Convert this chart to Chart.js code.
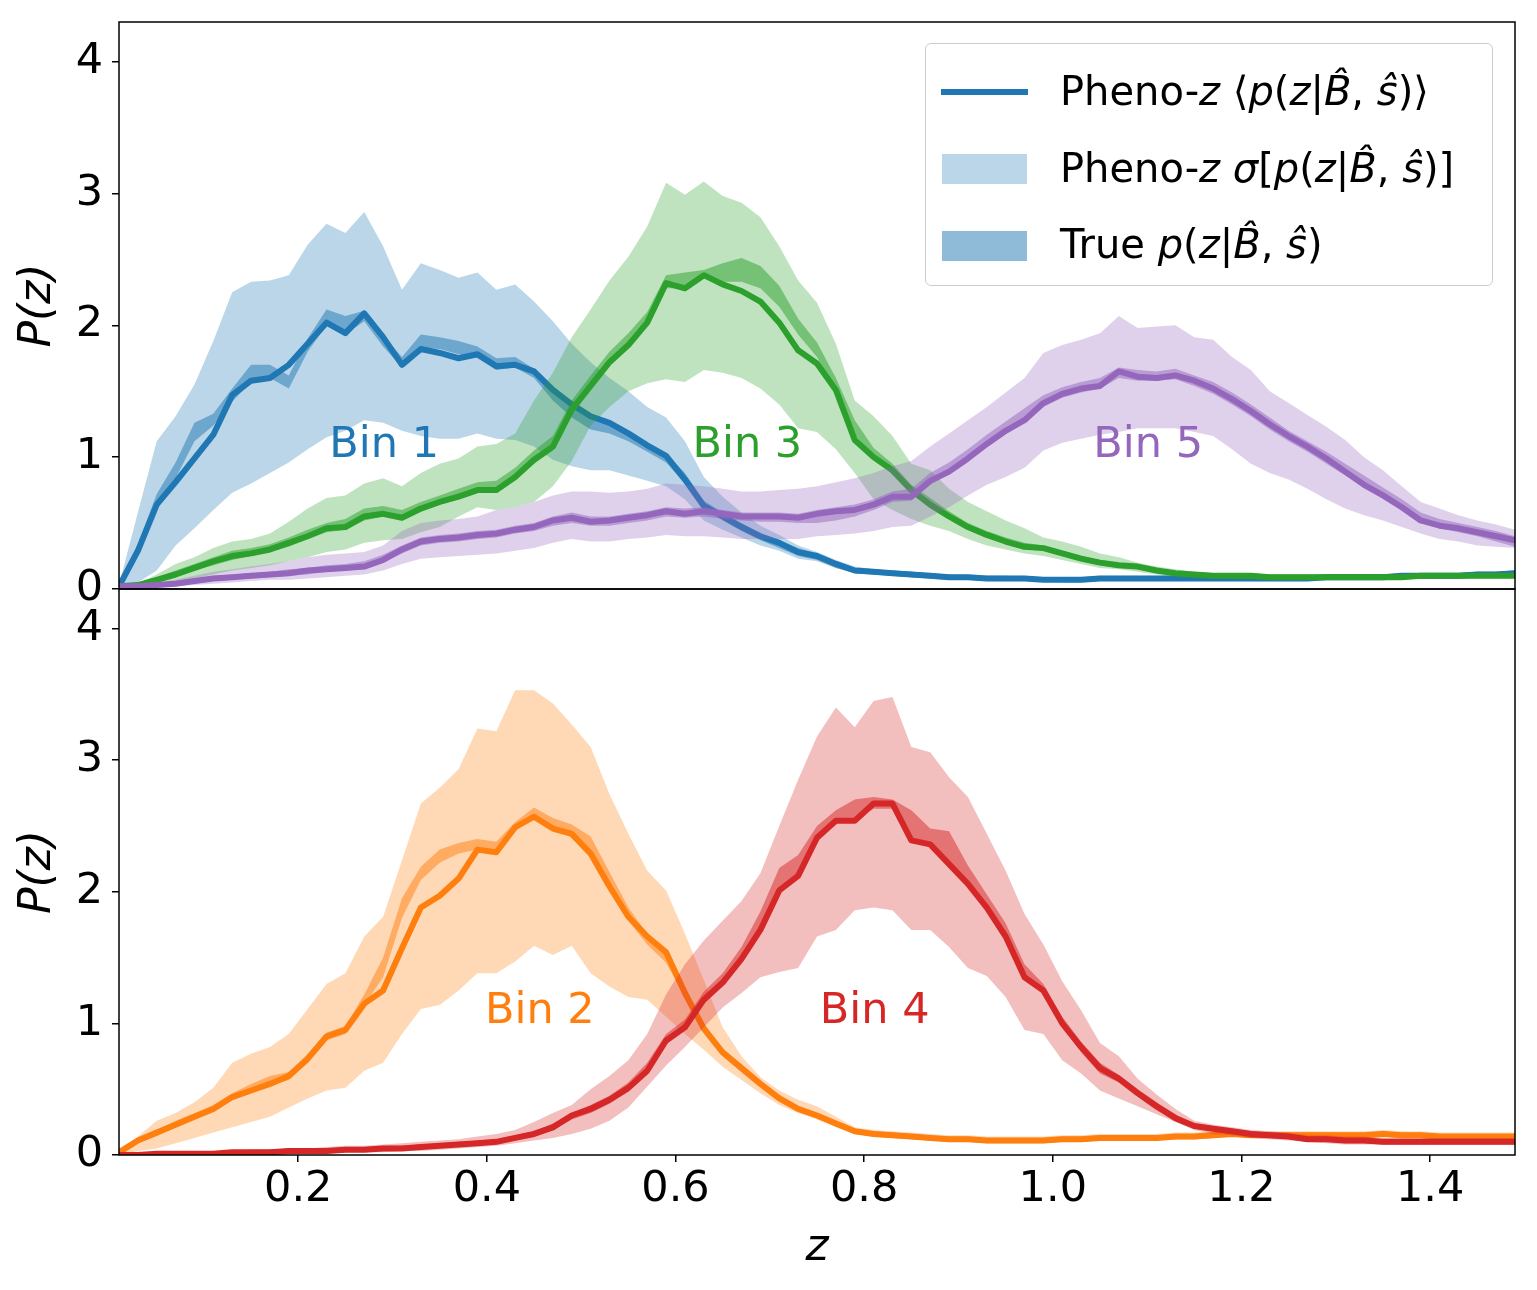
<!DOCTYPE html>
<html>
<head>
<meta charset="utf-8">
<script src="https://cdn.jsdelivr.net/npm/chart.js@4/dist/chart.umd.min.js"></script>
<style>
  html, body { margin: 0; padding: 0; background: #fff; }
  #wrap { position: relative; width: 1537px; height: 1290px; font-family: "DejaVu Sans", sans-serif; }
  #wrap canvas { position: absolute; left: 0; top: 0; }
  #legend { position: absolute; left: 925px; top: 43px; width: 566px; height: 241px;
            border: 1px solid #cccccc; border-radius: 6px; background: rgba(255,255,255,0.8); }
  .key { position: absolute; }
  .txt { position: absolute; left: 134px; font-size: 40px; line-height: 40px; white-space: nowrap; color: #000; }
</style>
</head>
<body>
<div id="wrap">
  <canvas id="topCanvas" width="1537" height="1290"></canvas>
  <canvas id="botCanvas" width="1537" height="1290"></canvas>
  <div id="legend">
    <div class="key" style="left:15px; top:45px; width:87px; height:6px; background:#1f77b4;"></div>
    <div class="txt" style="top:27px;">Pheno-<i>z</i> ⟨<i>p</i>(<i>z</i>|<i>B&#770;</i>, <i>ŝ</i>)⟩</div>
    <div class="key" style="left:16px; top:110px; width:85px; height:30px; background:rgba(31,119,180,0.3);"></div>
    <div class="txt" style="top:104px;">Pheno-<i>z</i> <i>σ</i>[<i>p</i>(<i>z</i>|<i>B&#770;</i>, <i>ŝ</i>)]</div>
    <div class="key" style="left:16px; top:187px; width:85px; height:30px; background:rgba(31,119,180,0.5);"></div>
    <div class="txt" style="top:180px;">True <i>p</i>(<i>z</i>|<i>B&#770;</i>, <i>ŝ</i>)</div>
  </div>
</div>
<script>
// redshift grid
const z = [0.01,0.03,0.05,0.07,0.09,0.11,0.13,0.15,0.17,0.19,
  0.21,0.23,0.25,0.27,0.29,0.31,0.33,0.35,0.37,0.39,
  0.41,0.43,0.45,0.47,0.49,0.51,0.53,0.55,0.57,0.59,
  0.61,0.63,0.65,0.67,0.69,0.71,0.73,0.75,0.77,0.79,
  0.81,0.83,0.85,0.87,0.89,0.91,0.93,0.95,0.97,0.99,
  1.01,1.03,1.05,1.07,1.09,1.11,1.13,1.15,1.17,1.19,
  1.21,1.23,1.25,1.27,1.29,1.31,1.33,1.35,1.37,1.39,
  1.41,1.43,1.45,1.47,1.49];

const xTicks = [0.2, 0.4, 0.6, 0.8, 1.0, 1.2, 1.4];
const yTicks = [0, 1, 2, 3, 4];

// Bin 1
const mean1 = [0.02,0.29,0.64,0.81,0.99,1.17,1.47,1.58,1.60,1.70,
  1.86,2.02,1.94,2.09,1.91,1.70,1.82,1.79,1.75,1.78,
  1.69,1.70,1.65,1.51,1.40,1.31,1.26,1.18,1.09,1.01,
  0.83,0.63,0.55,0.47,0.40,0.35,0.28,0.25,0.19,0.14,
  0.13,0.12,0.11,0.10,0.09,0.09,0.08,0.08,0.08,0.07,
  0.07,0.07,0.08,0.08,0.08,0.08,0.08,0.08,0.08,0.08,
  0.08,0.08,0.08,0.08,0.09,0.09,0.09,0.09,0.10,0.10,
  0.10,0.10,0.11,0.11,0.12];
const trueLo1 = [0.00,0.28,0.62,0.84,1.12,1.24,1.42,1.57,1.60,1.52,
  1.80,2.00,1.93,2.03,1.84,1.68,1.83,1.82,1.78,1.75,
  1.66,1.68,1.60,1.43,1.30,1.21,1.18,1.12,1.04,0.96,
  0.80,0.62,0.52,0.44,0.37,0.31,0.25,0.22,0.16,0.12,
  0.11,0.10,0.09,0.08,0.07,0.07,0.06,0.06,0.06,0.06,
  0.06,0.06,0.06,0.06,0.06,0.06,0.07,0.07,0.07,0.07,
  0.07,0.07,0.07,0.07,0.07,0.07,0.08,0.08,0.08,0.09,
  0.09,0.09,0.10,0.10,0.10];
const trueHi1 = [0.03,0.34,0.72,0.96,1.26,1.33,1.52,1.70,1.70,1.62,
  1.90,2.12,2.07,2.11,1.92,1.76,1.93,1.91,1.88,1.84,
  1.75,1.76,1.67,1.52,1.40,1.31,1.27,1.20,1.10,1.03,
  0.88,0.67,0.58,0.50,0.42,0.37,0.31,0.27,0.21,0.16,
  0.15,0.14,0.13,0.12,0.11,0.10,0.10,0.10,0.09,0.09,
  0.09,0.09,0.09,0.09,0.09,0.09,0.10,0.10,0.10,0.10,
  0.10,0.10,0.10,0.10,0.11,0.11,0.11,0.11,0.12,0.12,
  0.12,0.12,0.13,0.13,0.14];
const sigLo1 = [0.00,0.05,0.14,0.33,0.46,0.60,0.73,0.80,0.88,0.96,
  1.06,1.15,1.20,1.28,1.26,1.20,1.16,1.14,1.14,1.18,
  1.14,1.13,1.08,0.98,0.93,0.90,0.90,0.86,0.82,0.78,
  0.68,0.52,0.45,0.39,0.33,0.29,0.23,0.21,0.16,0.12,
  0.11,0.10,0.09,0.08,0.07,0.07,0.06,0.06,0.06,0.06,
  0.05,0.05,0.06,0.06,0.06,0.06,0.06,0.06,0.06,0.06,
  0.06,0.06,0.06,0.06,0.07,0.07,0.07,0.07,0.08,0.08,
  0.08,0.08,0.09,0.09,0.10];
const sigHi1 = [0.03,0.58,1.12,1.31,1.55,1.88,2.25,2.33,2.34,2.38,
  2.61,2.77,2.70,2.86,2.60,2.27,2.47,2.42,2.36,2.40,
  2.27,2.31,2.18,2.03,1.86,1.72,1.60,1.50,1.38,1.30,
  1.12,0.85,0.70,0.58,0.48,0.41,0.33,0.28,0.22,0.17,
  0.15,0.14,0.13,0.12,0.11,0.11,0.10,0.10,0.10,0.09,
  0.09,0.09,0.10,0.10,0.10,0.10,0.10,0.10,0.10,0.10,
  0.10,0.10,0.10,0.10,0.11,0.11,0.11,0.11,0.12,0.12,
  0.12,0.12,0.13,0.13,0.14];

// Bin 2
const mean2 = [0.02,0.11,0.17,0.23,0.29,0.35,0.44,0.49,0.54,0.60,
  0.73,0.90,0.95,1.15,1.25,1.57,1.88,1.97,2.10,2.32,
  2.30,2.49,2.57,2.48,2.44,2.29,2.04,1.81,1.66,1.54,
  1.23,0.96,0.78,0.66,0.54,0.43,0.35,0.30,0.24,0.18,
  0.16,0.15,0.14,0.13,0.12,0.12,0.11,0.11,0.11,0.11,
  0.12,0.12,0.13,0.13,0.13,0.13,0.14,0.14,0.15,0.16,
  0.15,0.15,0.15,0.15,0.15,0.15,0.15,0.16,0.15,0.15,
  0.14,0.14,0.14,0.14,0.14];
const trueLo2 = [0.00,0.09,0.15,0.21,0.27,0.33,0.42,0.48,0.53,0.57,
  0.71,0.87,0.92,1.14,1.35,1.80,2.09,2.22,2.29,2.32,
  2.31,2.46,2.57,2.49,2.41,2.29,2.04,1.78,1.60,1.46,
  1.20,0.94,0.76,0.63,0.52,0.41,0.33,0.28,0.22,0.16,
  0.14,0.13,0.12,0.11,0.10,0.10,0.09,0.09,0.09,0.09,
  0.10,0.10,0.11,0.11,0.11,0.11,0.12,0.12,0.13,0.14,
  0.13,0.13,0.13,0.13,0.13,0.13,0.13,0.14,0.13,0.13,
  0.12,0.12,0.12,0.12,0.12];
const trueHi2 = [0.03,0.13,0.19,0.26,0.32,0.38,0.47,0.54,0.60,0.63,
  0.77,0.93,0.98,1.22,1.50,1.95,2.19,2.32,2.37,2.40,
  2.38,2.53,2.64,2.56,2.51,2.42,2.15,1.88,1.68,1.55,
  1.28,1.00,0.81,0.68,0.56,0.46,0.37,0.32,0.26,0.20,
  0.18,0.17,0.16,0.15,0.14,0.14,0.13,0.13,0.13,0.13,
  0.14,0.14,0.15,0.15,0.15,0.15,0.16,0.16,0.17,0.18,
  0.17,0.17,0.17,0.17,0.17,0.17,0.17,0.18,0.17,0.17,
  0.16,0.16,0.16,0.16,0.16];
const sigLo2 = [0.00,0.03,0.05,0.09,0.13,0.17,0.21,0.25,0.29,0.36,
  0.43,0.49,0.51,0.64,0.70,0.92,1.11,1.14,1.25,1.38,
  1.38,1.47,1.59,1.52,1.59,1.38,1.28,1.20,1.18,1.05,
  0.92,0.80,0.67,0.57,0.47,0.38,0.32,0.27,0.21,0.16,
  0.14,0.13,0.12,0.11,0.10,0.10,0.09,0.09,0.09,0.09,
  0.10,0.10,0.11,0.11,0.11,0.11,0.12,0.12,0.13,0.14,
  0.13,0.13,0.13,0.13,0.13,0.13,0.13,0.14,0.13,0.13,
  0.12,0.12,0.12,0.12,0.12];
const sigHi2 = [0.02,0.14,0.26,0.32,0.40,0.51,0.70,0.77,0.82,0.92,
  1.11,1.30,1.38,1.66,1.81,2.24,2.67,2.79,2.93,3.24,
  3.22,3.53,3.53,3.43,3.27,3.10,2.74,2.44,2.16,2.01,
  1.68,1.33,0.97,0.75,0.59,0.49,0.42,0.37,0.29,0.21,
  0.19,0.18,0.17,0.16,0.15,0.15,0.14,0.14,0.14,0.14,
  0.15,0.15,0.16,0.16,0.16,0.16,0.17,0.17,0.18,0.19,
  0.18,0.18,0.18,0.18,0.18,0.18,0.18,0.19,0.18,0.18,
  0.17,0.17,0.17,0.17,0.17];

// Bin 3
const mean3 = [0.02,0.03,0.07,0.11,0.16,0.21,0.25,0.27,0.30,0.35,
  0.40,0.46,0.47,0.55,0.57,0.54,0.61,0.66,0.70,0.75,
  0.75,0.85,0.98,1.08,1.36,1.54,1.72,1.85,2.02,2.32,
  2.28,2.38,2.31,2.26,2.18,2.02,1.81,1.71,1.51,1.13,
  1.00,0.90,0.75,0.64,0.55,0.47,0.41,0.36,0.32,0.31,
  0.27,0.23,0.20,0.18,0.17,0.14,0.12,0.11,0.10,0.10,
  0.10,0.09,0.09,0.09,0.09,0.09,0.09,0.09,0.09,0.10,
  0.10,0.10,0.10,0.10,0.10];
const trueLo3 = [0.00,0.02,0.05,0.09,0.14,0.18,0.22,0.25,0.28,0.32,
  0.38,0.43,0.45,0.52,0.55,0.53,0.59,0.64,0.68,0.73,
  0.75,0.83,0.95,1.05,1.32,1.52,1.70,1.84,2.00,2.28,
  2.28,2.36,2.33,2.33,2.28,2.14,1.93,1.76,1.50,1.17,
  1.00,0.89,0.73,0.63,0.53,0.45,0.39,0.34,0.30,0.29,
  0.25,0.21,0.18,0.16,0.15,0.12,0.10,0.09,0.08,0.08,
  0.08,0.08,0.08,0.08,0.08,0.08,0.08,0.08,0.08,0.08,
  0.08,0.09,0.09,0.09,0.09];
const trueHi3 = [0.03,0.05,0.09,0.14,0.19,0.24,0.29,0.31,0.34,0.39,
  0.45,0.50,0.53,0.61,0.63,0.60,0.66,0.71,0.76,0.81,
  0.82,0.92,1.05,1.16,1.43,1.62,1.80,1.94,2.10,2.38,
  2.40,2.42,2.47,2.51,2.45,2.30,2.05,1.87,1.60,1.28,
  1.07,0.95,0.79,0.69,0.59,0.50,0.44,0.39,0.35,0.33,
  0.29,0.25,0.22,0.20,0.18,0.15,0.13,0.12,0.11,0.11,
  0.11,0.11,0.11,0.11,0.11,0.11,0.11,0.11,0.11,0.11,
  0.11,0.12,0.12,0.12,0.12];
const sigLo3 = [0.00,0.01,0.03,0.05,0.08,0.11,0.14,0.16,0.18,0.21,
  0.24,0.28,0.30,0.35,0.37,0.38,0.43,0.47,0.55,0.62,
  0.60,0.62,0.66,0.78,0.97,1.24,1.38,1.50,1.56,1.59,
  1.57,1.66,1.64,1.60,1.52,1.40,1.22,1.19,1.06,0.88,
  0.68,0.60,0.53,0.48,0.44,0.38,0.33,0.30,0.27,0.25,
  0.22,0.19,0.16,0.15,0.13,0.11,0.09,0.08,0.08,0.07,
  0.07,0.07,0.07,0.07,0.07,0.07,0.07,0.07,0.07,0.08,
  0.08,0.08,0.08,0.08,0.08];
const sigHi3 = [0.02,0.04,0.11,0.19,0.24,0.31,0.36,0.38,0.42,0.51,
  0.61,0.69,0.71,0.80,0.84,0.78,0.88,0.95,0.99,1.08,
  1.10,1.18,1.43,1.64,1.91,2.12,2.34,2.52,2.75,3.08,
  2.99,3.09,2.98,2.93,2.82,2.60,2.34,2.17,1.86,1.43,
  1.31,1.16,0.95,0.90,0.76,0.66,0.59,0.52,0.46,0.39,
  0.36,0.32,0.27,0.24,0.20,0.17,0.15,0.13,0.12,0.12,
  0.12,0.11,0.11,0.11,0.11,0.11,0.11,0.11,0.11,0.12,
  0.12,0.12,0.12,0.12,0.12];

// Bin 4
const mean4 = [0.00,0.00,0.01,0.01,0.01,0.01,0.02,0.02,0.02,0.03,
  0.03,0.03,0.04,0.04,0.05,0.05,0.06,0.07,0.08,0.09,
  0.10,0.13,0.16,0.21,0.30,0.35,0.42,0.51,0.64,0.87,
  0.97,1.18,1.31,1.49,1.71,2.01,2.12,2.41,2.54,2.54,
  2.67,2.67,2.39,2.36,2.21,2.06,1.88,1.66,1.35,1.25,
  1.00,0.82,0.66,0.58,0.47,0.37,0.28,0.22,0.20,0.18,
  0.16,0.15,0.14,0.12,0.12,0.11,0.11,0.10,0.10,0.10,
  0.10,0.10,0.10,0.10,0.10];
const trueLo4 = [0.00,0.00,0.00,0.00,0.00,0.00,0.01,0.01,0.01,0.02,
  0.02,0.02,0.03,0.03,0.04,0.04,0.05,0.06,0.07,0.08,
  0.09,0.11,0.14,0.19,0.27,0.32,0.39,0.48,0.61,0.84,
  0.95,1.15,1.29,1.47,1.70,2.00,2.12,2.40,2.53,2.54,
  2.63,2.63,2.40,2.37,2.22,2.06,1.88,1.66,1.35,1.23,
  0.98,0.78,0.62,0.55,0.44,0.34,0.26,0.20,0.18,0.16,
  0.14,0.13,0.12,0.10,0.10,0.09,0.09,0.08,0.08,0.08,
  0.08,0.08,0.08,0.08,0.08];
const trueHi4 = [0.01,0.01,0.02,0.02,0.02,0.03,0.03,0.04,0.04,0.05,
  0.05,0.05,0.06,0.06,0.07,0.07,0.08,0.09,0.10,0.11,
  0.12,0.15,0.18,0.24,0.32,0.38,0.45,0.55,0.70,0.92,
  1.03,1.24,1.38,1.58,1.85,2.18,2.28,2.50,2.62,2.70,
  2.72,2.70,2.62,2.48,2.46,2.20,1.98,1.76,1.45,1.30,
  1.05,0.86,0.70,0.61,0.50,0.40,0.31,0.24,0.22,0.20,
  0.18,0.17,0.16,0.14,0.14,0.13,0.13,0.12,0.12,0.12,
  0.12,0.12,0.12,0.12,0.12];
const sigLo4 = [0.00,0.00,0.00,0.00,0.00,0.00,0.01,0.01,0.01,0.01,
  0.01,0.01,0.02,0.02,0.02,0.03,0.03,0.04,0.05,0.06,
  0.07,0.09,0.11,0.13,0.16,0.20,0.26,0.36,0.52,0.68,
  0.82,0.97,1.12,1.23,1.35,1.39,1.42,1.66,1.71,1.86,
  1.88,1.86,1.71,1.71,1.58,1.42,1.36,1.20,0.95,0.92,
  0.72,0.62,0.49,0.43,0.37,0.31,0.25,0.19,0.16,0.15,
  0.13,0.12,0.11,0.10,0.09,0.08,0.08,0.08,0.08,0.08,
  0.08,0.08,0.08,0.08,0.08];
const sigHi4 = [0.01,0.01,0.02,0.02,0.02,0.03,0.03,0.04,0.04,0.05,
  0.05,0.06,0.07,0.07,0.08,0.09,0.10,0.11,0.12,0.14,
  0.16,0.19,0.25,0.32,0.38,0.50,0.60,0.72,0.92,1.22,
  1.45,1.63,1.78,1.93,2.14,2.50,2.85,3.18,3.40,3.25,
  3.45,3.48,3.10,3.06,2.87,2.72,2.44,2.16,1.83,1.60,
  1.32,1.10,0.85,0.75,0.58,0.46,0.35,0.26,0.23,0.21,
  0.19,0.18,0.17,0.15,0.15,0.14,0.14,0.13,0.13,0.13,
  0.13,0.13,0.13,0.13,0.13];

// Bin 5
const mean5 = [0.02,0.02,0.03,0.04,0.06,0.08,0.09,0.10,0.11,0.12,
  0.14,0.15,0.16,0.17,0.22,0.30,0.36,0.38,0.39,0.41,
  0.42,0.45,0.47,0.52,0.54,0.51,0.52,0.54,0.56,0.59,
  0.57,0.59,0.57,0.55,0.55,0.55,0.54,0.57,0.59,0.60,
  0.64,0.70,0.70,0.82,0.89,0.99,1.10,1.20,1.28,1.41,
  1.48,1.52,1.54,1.65,1.61,1.60,1.62,1.58,1.52,1.44,
  1.35,1.25,1.16,1.08,0.99,0.89,0.79,0.71,0.62,0.52,
  0.48,0.46,0.43,0.40,0.37];
const trueLo5 = [0.00,0.01,0.02,0.03,0.04,0.06,0.07,0.08,0.09,0.10,
  0.11,0.13,0.14,0.15,0.20,0.27,0.33,0.35,0.36,0.38,
  0.39,0.42,0.44,0.48,0.50,0.48,0.48,0.50,0.52,0.55,
  0.54,0.55,0.53,0.52,0.51,0.51,0.50,0.50,0.52,0.55,
  0.60,0.66,0.67,0.79,0.87,0.97,1.08,1.18,1.27,1.38,
  1.45,1.49,1.52,1.60,1.58,1.58,1.59,1.54,1.48,1.40,
  1.31,1.21,1.12,1.04,0.95,0.86,0.77,0.69,0.60,0.51,
  0.46,0.43,0.40,0.36,0.32];
const trueHi5 = [0.03,0.03,0.04,0.06,0.08,0.10,0.11,0.12,0.13,0.15,
  0.16,0.18,0.19,0.21,0.26,0.33,0.39,0.41,0.42,0.44,
  0.45,0.48,0.50,0.55,0.58,0.55,0.55,0.57,0.59,0.62,
  0.61,0.62,0.60,0.58,0.58,0.58,0.57,0.60,0.62,0.64,
  0.68,0.74,0.76,0.88,0.96,1.06,1.17,1.27,1.37,1.47,
  1.53,1.57,1.60,1.68,1.66,1.65,1.67,1.62,1.57,1.49,
  1.40,1.30,1.20,1.12,1.04,0.95,0.86,0.77,0.68,0.58,
  0.53,0.50,0.47,0.44,0.40];
const sigLo5 = [0.00,0.01,0.01,0.02,0.03,0.04,0.05,0.06,0.07,0.07,
  0.08,0.09,0.10,0.11,0.14,0.19,0.23,0.24,0.25,0.26,
  0.27,0.29,0.31,0.35,0.38,0.36,0.36,0.38,0.39,0.41,
  0.40,0.40,0.39,0.38,0.38,0.38,0.38,0.40,0.41,0.42,
  0.44,0.47,0.48,0.55,0.62,0.71,0.79,0.85,0.92,1.05,
  1.11,1.14,1.17,1.19,1.22,1.22,1.22,1.19,1.16,1.06,
  0.95,0.88,0.83,0.76,0.68,0.61,0.56,0.52,0.47,0.42,
  0.38,0.36,0.33,0.32,0.31];
const sigHi5 = [0.02,0.03,0.05,0.07,0.10,0.13,0.15,0.17,0.19,0.21,
  0.24,0.26,0.27,0.28,0.33,0.44,0.50,0.52,0.53,0.55,
  0.60,0.62,0.66,0.71,0.74,0.74,0.73,0.74,0.76,0.80,
  0.79,0.78,0.76,0.74,0.74,0.75,0.76,0.78,0.81,0.84,
  0.88,0.93,0.97,1.08,1.18,1.28,1.38,1.49,1.60,1.79,
  1.85,1.89,1.94,2.07,1.98,1.99,2.00,1.91,1.89,1.76,
  1.66,1.50,1.41,1.32,1.23,1.13,1.00,0.90,0.78,0.66,
  0.61,0.56,0.52,0.49,0.45];

// bin labels
const binNames = ["Bin 1", "Bin 2", "Bin 3", "Bin 4", "Bin 5"];
const binColors = ["31,119,180", "255,127,14", "44,160,44", "214,39,40", "148,103,189"];
const labelZ = [0.233, 0.398, 0.618, 0.753, 1.043];
const labelP = [1.0, 1.0, 1.0, 1.0, 1.0];

const FONT = "'DejaVu Sans', sans-serif";

const bins = [
    {mean: mean1, tLo: trueLo1, tHi: trueHi1, sLo: sigLo1, sHi: sigHi1},
    {mean: mean2, tLo: trueLo2, tHi: trueHi2, sLo: sigLo2, sHi: sigHi2},
    {mean: mean3, tLo: trueLo3, tHi: trueHi3, sLo: sigLo3, sHi: sigHi3},
    {mean: mean4, tLo: trueLo4, tHi: trueHi4, sLo: sigLo4, sHi: sigHi4},
    {mean: mean5, tLo: trueLo5, tHi: trueHi5, sLo: sigLo5, sHi: sigHi5}
];

function pts(arr) {
    return z.map((v, i) => ({x: v, y: arr[i]}));
}

function edge(arr, fill, color) {
    return {
        data: pts(arr),
        borderWidth: 0,
        pointRadius: 0,
        fill: fill,
        backgroundColor: color,
        clip: 0
    };
}

// sigma band, true band, then mean line, like the plotting order
function binSets(b) {
    const c = binColors[b];
    const d = bins[b];
    return [
        edge(d.sHi, '+1', `rgba(${c},0.3)`),
        edge(d.sLo, false, 'transparent'),
        edge(d.tHi, '+1', `rgba(${c},0.5)`),
        edge(d.tLo, false, 'transparent'),
        {
            data: pts(d.mean),
            borderColor: `rgb(${c})`,
            borderWidth: 6,
            borderJoinStyle: 'round',
            pointRadius: 0,
            fill: false,
            clip: 0
        }
    ];
}

function panelSets(list) {
    let sets = [];
    list.forEach(b => { sets = sets.concat(binSets(b)); });
    // later datasets end up on top
    sets.forEach((s, i) => { s.order = -i; });
    return sets;
}

const framePlugin = {
    id: 'frame',
    afterDatasetsDraw(chart, args, opts) {
        const {ctx, chartArea: a} = chart;
        const xs = chart.scales.x, ys = chart.scales.y;
        ctx.save();
        ctx.font = "43px " + FONT;
        ctx.textAlign = 'left';
        ctx.textBaseline = 'alphabetic';
        (opts.bins || []).forEach(b => {
            ctx.fillStyle = `rgb(${binColors[b]})`;
            ctx.fillText(binNames[b], xs.getPixelForValue(labelZ[b]), ys.getPixelForValue(labelP[b]));
        });
        ctx.strokeStyle = '#000';
        ctx.lineWidth = 1.5;
        ctx.strokeRect(a.left, a.top, a.right - a.left, a.bottom - a.top);
        ctx.restore();
    }
};

function yScale() {
    return {
        type: 'linear',
        min: 0,
        max: 4.3,
        afterBuildTicks: s => { s.ticks = yTicks.map(v => ({value: v})); },
        afterFit: s => {
            s.width = 119;
            s.paddingTop = 0;
            s.paddingBottom = 0;
        },
        ticks: {
            font: {family: FONT, size: 43},
            color: '#000',
            padding: 9,
            callback: v => String(v)
        },
        grid: {drawOnChartArea: false, drawTicks: true, tickLength: 7, color: '#000', lineWidth: 1.5},
        border: {display: false},
        title: {
            display: true,
            text: 'P(z)',
            color: '#000',
            font: {family: FONT, size: 44, style: 'italic', lineHeight: 1.2},
            padding: {top: 12, bottom: 0}
        }
    };
}

function makeChart(id, list, xOpts, padding) {
    return new Chart(document.getElementById(id), {
        type: 'line',
        data: {datasets: panelSets(list)},
        options: {
            responsive: false,
            animation: false,
            devicePixelRatio: 1,
            events: [],
            layout: {padding: padding},
            plugins: {
                legend: {display: false},
                tooltip: {enabled: false},
                frame: {bins: list}
            },
            scales: {x: xOpts, y: yScale()}
        },
        plugins: [framePlugin]
    });
}

// upper panel: bins 1, 3, 5
makeChart('topCanvas', [0, 2, 4], {
    type: 'linear', min: 0.01, max: 1.49, display: false
}, {left: 0, top: 22, right: 22, bottom: 701});

// lower panel: bins 2, 4
makeChart('botCanvas', [1, 3], {
    type: 'linear',
    min: 0.01,
    max: 1.49,
    afterBuildTicks: s => { s.ticks = xTicks.map(v => ({value: v})); },
    afterFit: s => {
        s.height = 135;
        s.paddingLeft = 0;
        s.paddingRight = 0;
    },
    ticks: {
        font: {family: FONT, size: 43},
        color: '#000',
        padding: 2,
        autoSkip: false,
        maxRotation: 0,
        callback: v => v.toFixed(1)
    },
    grid: {drawOnChartArea: false, drawTicks: true, tickLength: 7, color: '#000', lineWidth: 1.5},
    border: {display: false},
    title: {
        display: true,
        text: 'z',
        color: '#000',
        font: {family: FONT, size: 44, style: 'italic', lineHeight: 1.2},
        padding: {top: 0, bottom: 15}
    }
}, {left: 0, top: 589, right: 22, bottom: 0});
</script>
</body>
</html>
